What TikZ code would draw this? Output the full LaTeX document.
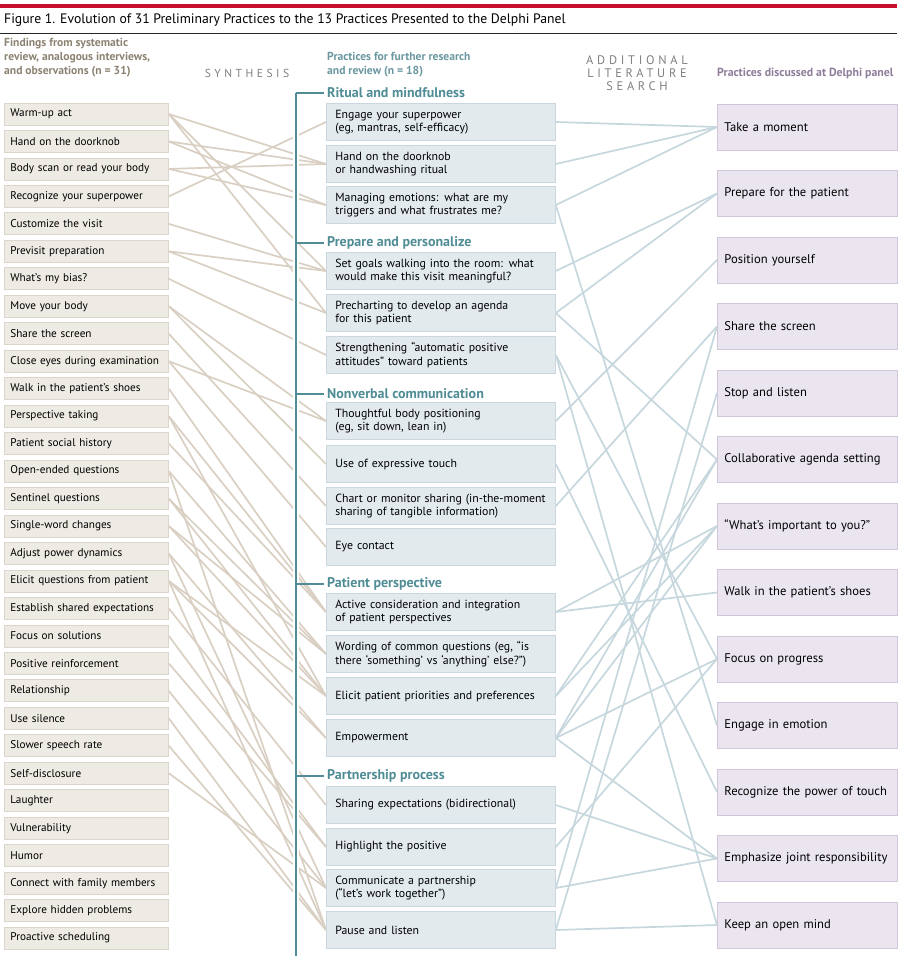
\documentclass[tikz,border=0pt]{standalone}
\usepackage{fontspec}
\setmainfont{PT Sans}
\newfontfamily\spaced[LetterSpace=30]{PT Sans}
\usetikzlibrary{positioning,backgrounds}

\definecolor{jred}{HTML}{C8102E}
\definecolor{findfill}{HTML}{EEEAE4}
\definecolor{finddraw}{HTML}{DCD5CB}
\definecolor{findline}{HTML}{D9CFC3}
\definecolor{findtext}{HTML}{8C8272}
\definecolor{pracfill}{HTML}{E3EAEE}
\definecolor{pracdraw}{HTML}{CAD7DE}
\definecolor{pracline}{HTML}{C6D7DE}
\definecolor{practext}{HTML}{6A97A0}
\definecolor{delfill}{HTML}{EBE5EF}
\definecolor{deldraw}{HTML}{D2C7DA}
\definecolor{deltext}{HTML}{8E7D9A}
\definecolor{tealgrp}{HTML}{4F8C95}
\definecolor{stepgray}{HTML}{808080}

\begin{document}
\begin{tikzpicture}[x=1pt, y=-1pt,
    finding/.style={draw=finddraw, fill=findfill, line width=0.8pt, anchor=west, minimum height=22pt,
        text width=152pt, inner xsep=6pt, align=left, font=\fontsize{11.2}{13}\selectfont},
    practice/.style={draw=pracdraw, fill=pracfill, line width=0.8pt, anchor=west, minimum height=37pt,
        text width=211pt, inner xsep=9pt, align=left, font=\fontsize{11.8}{13.5}\selectfont},
    delphi/.style={draw=deldraw, fill=delfill, line width=0.8pt, anchor=west, minimum height=46pt,
        text width=166pt, inner xsep=7pt, align=left, font=\fontsize{12.6}{14}\selectfont},
    group/.style={anchor=west, inner sep=0pt, text=tealgrp, font=\bfseries\fontsize{14}{15}\selectfont},
    head/.style={anchor=north west, inner sep=0pt, align=left, font=\bfseries\fontsize{11.6}{14}\selectfont},
    lnk/.style={findline, line width=1.7pt},
    rlnk/.style={pracline, line width=1.7pt}
]
\useasboundingbox (0,0) rectangle (902,956);

% title
\fill[jred] (0,4) rectangle (897,7.5);
\node[anchor=west, inner sep=0pt, font=\fontsize{13.7}{15}\selectfont] (title) at (4,20)
    {Figure 1. Evolution of 31 Preliminary Practices to the 13 Practices Presented to the Delphi Panel};
\draw[black!85, line width=0.9pt] (0,33) -- (897,33);

% column heads
\node[head, text=findtext] (hfind) at (4,38) {Findings from systematic\\review, analogous interviews,\\and observations (n = 31)};
\node[anchor=center, inner sep=0pt, text=stepgray, font=\spaced\fontsize{11.6}{13}\selectfont] (hsyn) at (247,73) {SYNTHESIS};
\node[head, text=practext] (hprac) at (327,52) {Practices for further research\\and review (n = 18)};
\node[anchor=center, inner sep=0pt, align=center, text=stepgray, font=\spaced\fontsize{12.4}{13}\selectfont] (hlit) at (637,73)
    {ADDITIONAL\\LITERATURE\\SEARCH};
\node[anchor=west, inner sep=0pt, text=deltext, font=\bfseries\fontsize{11.8}{13}\selectfont] (hdel) at (717,73)
    {Practices discussed at Delphi panel};

% findings
\foreach \t [count=\i] in {Warm-up act, Hand on the doorknob, Body scan or read your body,
    Recognize your superpower, Customize the visit, Previsit preparation, What’s my bias?,
    Move your body, Share the screen, Close eyes during examination, Walk in the patient’s shoes,
    Perspective taking, Patient social history, Open-ended questions, Sentinel questions,
    Single-word changes, Adjust power dynamics, Elicit questions from patient,
    Establish shared expectations, Focus on solutions, Positive reinforcement, Relationship,
    Use silence, Slower speech rate, Self-disclosure, Laughter, Vulnerability, Humor,
    Connect with family members, Explore hidden problems, Proactive scheduling}
    \node[finding] (L\i) at (4,{114+(\i-1)*27.47}) {\t};

% practices
\draw[white, line width=6pt] (296,93) -- (296,956);
\draw[tealgrp, line width=1.4pt] (296,93) -- (296,956);
\foreach \y/\t in {93/Ritual and mindfulness, 243/Prepare and personalize, 394/Nonverbal communication,
    584/Patient perspective, 776/Partnership process} {
  \draw[tealgrp, line width=2.5pt] (296,\y) -- (324,\y);
  \node[group] at (327,\y) {\t};
}
\node[practice] (M1) at (326,122) {Engage your superpower\\(eg, mantras, self-efficacy)};
\node[practice] (M2) at (326,164) {Hand on the doorknob\\or handwashing ritual};
\node[practice] (M3) at (326,205) {Managing emotions: what are my\\triggers and what frustrates me?};
\node[practice] (M4) at (326,271) {Set goals walking into the room: what\\would make this visit meaningful?};
\node[practice] (M5) at (326,313) {Precharting to develop an agenda\\for this patient};
\node[practice] (M6) at (326,355) {Strengthening “automatic positive\\attitudes” toward patients};
\node[practice] (M7) at (326,421) {Thoughtful body positioning\\(eg, sit down, lean in)};
\node[practice] (M8) at (326,464) {Use of expressive touch};
\node[practice] (M9) at (326,506) {Chart or monitor sharing (in-the-moment\\sharing of tangible information)};
\node[practice] (M10) at (326,547) {Eye contact};
\node[practice] (M11) at (326,612) {Active consideration and integration\\of patient perspectives};
\node[practice] (M12) at (326,654) {Wording of common questions (eg, “is\\there ‘something’ vs ‘anything’ else?”)};
\node[practice] (M13) at (326,696) {Elicit patient priorities and preferences};
\node[practice] (M14) at (326,738) {Empowerment};
\node[practice] (M15) at (326,805) {Sharing expectations (bidirectional)};
\node[practice] (M16) at (326,847) {Highlight the positive};
\node[practice] (M17) at (326,888) {Communicate a partnership\\(“let’s work together”)};
\node[practice] (M18) at (326,930) {Pause and listen};

% delphi panel
\foreach \t [count=\i] in {Take a moment, Prepare for the patient, Position yourself, Share the screen,
    Stop and listen, Collaborative agenda setting, “What’s important to you?”,
    Walk in the patient’s shoes, Focus on progress, Engage in emotion,
    Recognize the power of touch, Emphasize joint responsibility, Keep an open mind}
    \node[delphi] (R\i) at (717,{127+(\i-1)*66.5}) {\t};

% synthesis links
\begin{scope}[on background layer]
\foreach \a/\b in {1/2,1/4,1/5,2/2,2/3,3/2,3/3,4/1,5/4,6/4,6/5,7/6,8/7,8/8,9/9,10/7,10/10,
    11/11,12/11,12/13,13/11,14/12,14/18,15/12,15/13,16/12,16/13,17/14,17/17,18/13,18/14,18/18,
    19/15,20/16,21/16,22/17,23/18,24/18,25/17}
  \draw[lnk] (L\a.east) -- (M\b.west);
% literature links
\foreach \a/\b in {1/1,2/1,3/1,3/10,4/2,5/2,5/6,6/9,6/13,7/3,8/11,9/4,11/7,11/8,13/6,13/7,
    14/6,14/7,14/9,14/12,15/12,16/9,17/4,17/12,18/5,18/13}
  \draw[rlnk] (M\a.east) -- (R\b.west);
\end{scope}
\end{tikzpicture}
\end{document}
